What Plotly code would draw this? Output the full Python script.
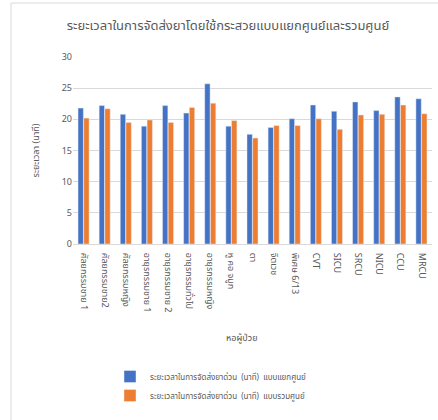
import plotly.graph_objects as go

categories = ["ศัลยกรรมชาย 1", "ศัลยกรรมชาย2", "ศัลยกรรมหญิง", "อายุรกรรมชาย 1", "อายุรกรรมชาย 2",
              "อายุรกรรมทั่วไป", "อายุรกรรมหญิง", "หู คอ จมูก", "ตา", "จิตเวช", "พิเศษ 6/13",
              "CVT", "SICU", "SRCU", "NICU", "CCU", "MRCU"]
separate = [21.8, 22.2, 20.8, 18.9, 22.2, 21.0, 25.7, 18.9, 17.6, 18.7, 20.1, 22.3, 21.3, 22.8, 21.4, 23.6, 23.3]
combined = [20.2, 21.7, 19.5, 19.9, 19.5, 21.9, 22.6, 19.8, 17.0, 19.0, 19.0, 20.1, 18.4, 20.7, 20.8, 22.3, 20.9]
series_names = ["ระยะเวลาในการจัดส่งยาด่วน  (นาที)  แบบแยกศูนย์",
                "ระยะเวลาในการจัดส่งยาด่วน  (นาที)  แบบรวมศูนย์"]
y_ticks = [0, 5, 10, 15, 20, 25, 30]

W, H = 438, 420
L, R, T, B = 73, 6, 57, 176
pw, ph = W - L - R, H - T - B

def px_x(x):
    return (x - L) / pw

def px_y(y):
    return (H - B - y) / ph

font_fam = "Noto Sans, Noto Sans Thai, Tahoma, sans-serif"
grey = "#595959"

fig = go.Figure()
fig.add_trace(go.Bar(x=categories, y=separate, name=series_names[0], marker_color="#4472C4"))
fig.add_trace(go.Bar(x=categories, y=combined, name=series_names[1], marker_color="#ED7D31"))

fig.update_layout(
    width=W, height=H,
    margin=dict(l=L, r=R, t=T, b=B),
    paper_bgcolor="white", plot_bgcolor="white",
    barmode="group", bargap=0.46, bargroupgap=0.06,
    font=dict(family=font_fam, color=grey, size=9),
    title=dict(text="ระยะเวลาในการจัดส่งยาโดยใช้กระสวยแบบแยกศูนย์และรวมศูนย์",
               x=228 / W, xanchor="center", xref="container",
               y=1 - 25 / H, yanchor="middle", yref="container",
               font=dict(size=13, color=grey, family=font_fam)),
    xaxis=dict(tickangle=90, tickfont=dict(size=9, color=grey), showgrid=False,
               showline=True, linecolor="#D9D9D9", ticks="", ticklabelstandoff=6),
    yaxis=dict(range=[0, 30], tickvals=y_ticks, showgrid=True, gridcolor="#D9D9D9",
               zeroline=False, tickfont=dict(size=9, color=grey), ticks="", ticklen=0),
    legend=dict(orientation="v", x=px_x(110), y=px_y(362), xanchor="left", yanchor="top",
                font=dict(size=8, color=grey), tracegroupgap=4, bgcolor="rgba(0,0,0,0)",
                itemwidth=30),
    showlegend=True,
)

fig.add_annotation(text="หอผู้ป่วย", x=px_x(242), y=px_y(337), xref="paper", yref="paper",
                   showarrow=False, font=dict(size=9, color=grey), xanchor="center", yanchor="middle")
fig.add_annotation(text="ระยะเวลา (นาที)", x=px_x(35), y=0.5, xref="paper", yref="paper",
                   showarrow=False, textangle=-90, font=dict(size=9, color=grey),
                   xanchor="center", yanchor="middle")

# chart frame (top and left edges)
fig.add_shape(type="line", xref="paper", yref="paper", x0=px_x(11), x1=px_x(440),
              y0=px_y(3), y1=px_y(3), line=dict(color="#D9D9D9", width=1))
fig.add_shape(type="line", xref="paper", yref="paper", x0=px_x(11), x1=px_x(11),
              y0=px_y(3), y1=px_y(422), line=dict(color="#D9D9D9", width=1))

fig.write_html("out.html")
